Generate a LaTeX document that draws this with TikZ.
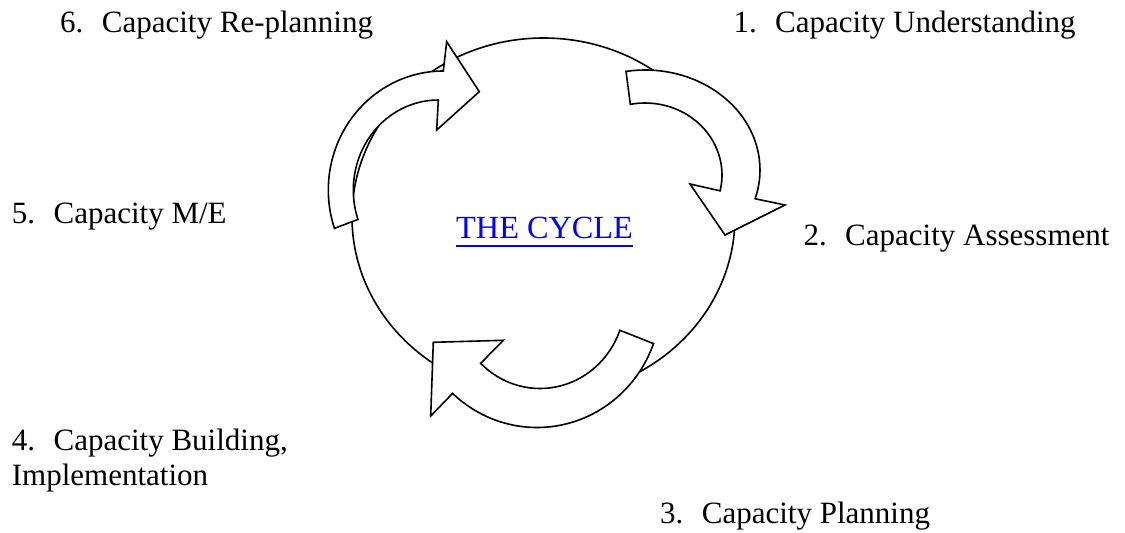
\documentclass[tikz,border=0pt]{standalone}
\usepackage{fontspec}
\setmainfont{Liberation Serif}
\newcommand\numlbl[1]{\makebox[41.7pt][l]{#1}}
\begin{document}
\begin{tikzpicture}[x=1pt,y=-1pt,
  lbl/.style={anchor=base west,inner sep=0pt,font=\fontsize{31}{36}\selectfont},
  cyclelbl/.style={anchor=base west,inner sep=0pt,text=blue,font=\fontsize{32.3}{37}\selectfont},
  ring/.style={draw=black,line width=1.6pt},
  bentarrow/.style={draw=black,fill=white,line width=1.6pt,line join=miter}]
\useasboundingbox (0,0) rectangle (1125,533);
% central ring
\draw[ring] (543.5,217) ellipse [x radius=191.5pt, y radius=179pt];
% top arrow (from 5 towards 6/1)
\draw[bentarrow] ([shift={(443.3,190)}]198.8:115pt and 119pt)
  arc[start angle=198.8, end angle=90, x radius=115pt, y radius=119pt]
  -- (446.7,41.7) -- (479.3,91.7) -- (436.7,130) -- (438.3,100)
  arc[start angle=90, end angle=199.1, x radius=85pt, y radius=90pt] -- cycle;
% right arrow (from 1 towards 2)
\draw[bentarrow] ([shift={(645,170)}]99.5:115pt and 100pt)
  arc[start angle=99.5, end angle=-16.7, x radius=115pt, y radius=100pt]
  -- (785,205) -- (725,235) -- (690,184) -- ([shift={(645,175)}]-12.7:77pt and 72pt)
  arc[start angle=-12.7, end angle=101, x radius=77pt, y radius=72pt] -- cycle;
% bottom arrow (from 3 towards 4)
\draw[bentarrow] ([shift={(540,300)}]-20:85pt and 88.5pt)
  arc[start angle=-20, end angle=-134.3, x radius=85pt, y radius=88.5pt]
  -- (503.3,340.3) -- (433.3,342.3) -- (430.7,416) -- ([shift={(537,300)}]-132.9:124pt and 127.5pt)
  arc[start angle=-132.9, end angle=-20, x radius=124pt, y radius=127.5pt] -- cycle;
% labels
\node[lbl] (l6) at (60,32.5) {\numlbl{6.}Capacity Re-planning};
\node[lbl] (l1) at (733.3,32) {\numlbl{1.}Capacity Understanding};
\node[lbl] (l5) at (11.7,223.3) {\numlbl{5.}Capacity M/E};
\node[lbl] (l2) at (803.3,245) {\numlbl{2.}Capacity Assessment};
\node[lbl] (l4a) at (11.7,450) {\numlbl{4.}Capacity Building,};
\node[lbl] (l4b) at (11.7,485.5) {Implementation};
\node[lbl] (l3) at (660,523.3) {\numlbl{3.}Capacity Planning};
\node[cyclelbl] (cyc) at (456,238.3) {THE CYCLE};
\draw[blue,line width=2pt] ([yshift=-7.4pt]cyc.base west) -- ([yshift=-7.4pt]cyc.base east);
\end{tikzpicture}
\end{document}
